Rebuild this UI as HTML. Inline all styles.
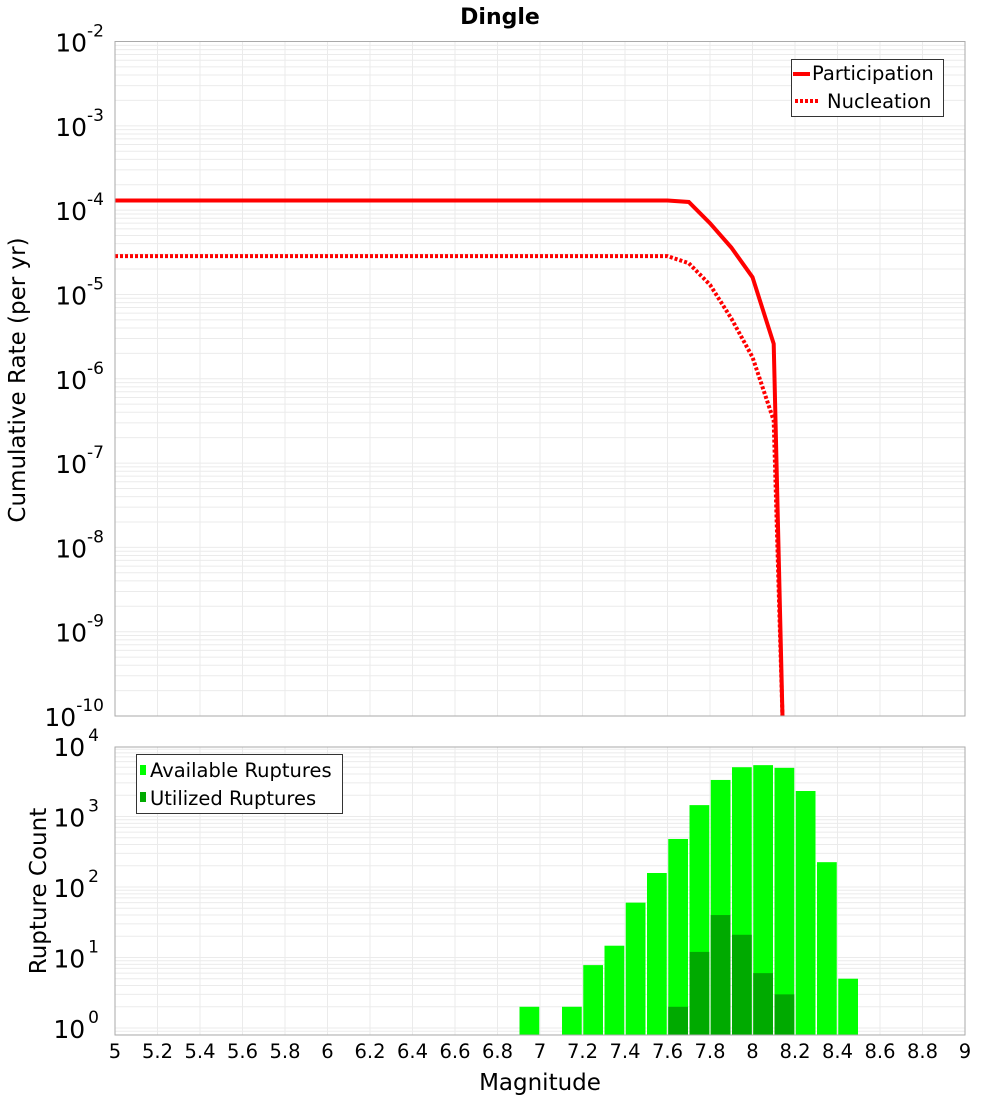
<!DOCTYPE html>
<html><head><meta charset="utf-8"><style>
html,body{margin:0;background:#fff;width:1000px;height:1100px;overflow:hidden;font-family:"DejaVu Sans","Liberation Sans",sans-serif;}
svg{display:block;}
svg text{font-family:"DejaVu Sans","Liberation Sans",sans-serif;}
</style></head><body>
<svg id="c" width="1000" height="1100" xmlns="http://www.w3.org/2000/svg">
<rect width="1000" height="1100" fill="#fff"/>
<text x="500" y="24" text-anchor="middle" font-size="22" font-weight="bold">Dingle</text>
<g id="topPanel"></g><g id="botPanel"></g>
</svg>
<script>
const mags=[5,5.1,5.2,5.3,5.4,5.5,5.6,5.7,5.8,5.9,6,6.1,6.2,6.3,6.4,6.5,6.6,6.7,6.8,6.9,7,7.1,7.2,7.3,7.4,7.5,7.6,7.7,7.8,7.9,8.0,8.1,8.2];
const participation=[1.3e-4,1.3e-4,1.3e-4,1.3e-4,1.3e-4,1.3e-4,1.3e-4,1.3e-4,1.3e-4,1.3e-4,1.3e-4,1.3e-4,1.3e-4,1.3e-4,1.3e-4,1.3e-4,1.3e-4,1.3e-4,1.3e-4,1.3e-4,1.3e-4,1.3e-4,1.3e-4,1.3e-4,1.3e-4,1.3e-4,1.3e-4,1.25e-4,7e-5,3.6e-5,1.6e-5,2.6e-6,5e-17];
const nucleation=[2.85e-5,2.85e-5,2.85e-5,2.85e-5,2.85e-5,2.85e-5,2.85e-5,2.85e-5,2.85e-5,2.85e-5,2.85e-5,2.85e-5,2.85e-5,2.85e-5,2.85e-5,2.85e-5,2.85e-5,2.85e-5,2.85e-5,2.85e-5,2.85e-5,2.85e-5,2.85e-5,2.85e-5,2.85e-5,2.85e-5,2.85e-5,2.35e-5,1.3e-5,5.2e-6,1.8e-6,3.2e-7,9e-16];
const binCenters=[6.95,7.15,7.25,7.35,7.45,7.55,7.65,7.75,7.85,7.95,8.05,8.15,8.25,8.35,8.45];
const available=[2,2,7.8,14.7,60,158,480,1450,3300,5000,5350,4900,2300,225,5];
const utilizedCenters=[7.65,7.75,7.85,7.95,8.05,8.15];
const utilized=[2,12,40,21,6,3];
const xTicks=[5,5.2,5.4,5.6,5.8,6,6.2,6.4,6.6,6.8,7,7.2,7.4,7.6,7.8,8,8.2,8.4,8.6,8.8,9];
const xTickLabels=["5","5.2","5.4","5.6","5.8","6","6.2","6.4","6.6","6.8","7","7.2","7.4","7.6","7.8","8","8.2","8.4","8.6","8.8","9"];
const topExps=[-2,-3,-4,-5,-6,-7,-8,-9,-10];
const botExps=[0,1,2,3,4];

const NS="http://www.w3.org/2000/svg";
const L=115,R=965;
const X=m=>L+(m-5)/4*(R-L);
const T0=41.5,T1=716;
const YT=v=>T0+(-2-Math.log10(v))*(T1-T0)/8;
const B0=747,B1=1035,BD=70.5,BZ=1028;
const YB=v=>BZ-Math.log10(v)*BD;
function el(p,tag,a,txt){const e=document.createElementNS(NS,tag);for(const k in a)e.setAttribute(k,a[k]);if(txt!==undefined)e.textContent=txt;p.appendChild(e);return e;}
const topG=document.getElementById('topPanel'),botG=document.getElementById('botPanel');

function grid(g,y0,y1,yf,lo,hi){
  for(let d=lo;d<hi;d++)for(let k=1;k<10;k++){const y=yf(k*Math.pow(10,d));if(y<y0-0.5||y>y1+0.5)continue;
    el(g,'line',{x1:L,x2:R,y1:y,y2:y,stroke:'#ebebeb','stroke-width':1});}
  xTicks.forEach(t=>{el(g,'line',{x1:X(t),x2:X(t),y1:y0,y2:y1,stroke:'#ebebeb','stroke-width':1});});
}
const tg=el(topG,'g',{});


grid(tg,T0,T1,YT,-11,-1);
const clip=el(tg,'clipPath',{id:'ct'});el(clip,'rect',{x:L,y:T0,width:R-L,height:T1-T0});
function line(arr,dash,name){
  const d=mags.map((m,i)=>(i?'L':'M')+X(m).toFixed(1)+','+YT(arr[i]).toFixed(1)).join('');
  const p=el(tg,'path',{d:d,fill:'none',stroke:'#ff0000','stroke-width':4,'clip-path':'url(#ct)','stroke-dasharray':dash||'none'});
  
  
}
line(participation,null,'participation-line');
line(nucleation,'3,2','nucleation-line');
el(tg,'rect',{x:L,y:T0,width:R-L,height:T1-T0,fill:'none',stroke:'#aaa','stroke-width':1});
topExps.forEach(e=>{const y=YT(Math.pow(10,e));
  const t=el(tg,'text',{x:104,y:y+10,'text-anchor':'end','font-size':25});
  
  
  el(t,'tspan',{},'10');el(t,'tspan',{dy:-15,'font-size':17},String(e));});
const yt=el(tg,'text',{transform:'translate(25,380) rotate(-90)','text-anchor':'middle','font-size':23},'Cumulative Rate (per yr)');


const lg=el(tg,'g',{});


el(lg,'rect',{x:791.5,y:59.5,width:152,height:57,fill:'#fff',stroke:'#333','stroke-width':1});
el(lg,'line',{x1:793,x2:810,y1:74,y2:74,stroke:'#f00','stroke-width':4});
el(lg,'text',{x:812,y:80,'font-size':19.5},'Participation');
el(lg,'line',{x1:795,x2:818,y1:101,y2:101,stroke:'#f00','stroke-width':4,'stroke-dasharray':'3,2'});
el(lg,'text',{x:827,y:108,'font-size':19.5},'Nucleation');

const bg=el(botG,'g',{});


grid(bg,B0,B1,YB,-1,4);
const bw=X(5.1)-X(5)-1.5;
binCenters.forEach((c,i)=>{const y=YB(available[i]);
  const r=el(bg,'rect',{x:X(c)-bw/2,y:y,width:bw,height:B1-y,fill:'#00ff00'});
  
  });
utilizedCenters.forEach((c,i)=>{const y=YB(utilized[i]);
  const r=el(bg,'rect',{x:X(c)-bw/2,y:y,width:bw,height:B1-y,fill:'#00aa00'});
  
  });
el(bg,'rect',{x:L,y:B0,width:R-L,height:B1-B0,fill:'none',stroke:'#aaa','stroke-width':1});
botExps.forEach(e=>{const y=YB(Math.pow(10,e));
  const t=el(bg,'text',{x:99,y:y+10,'text-anchor':'end','font-size':25});
  
  
  el(t,'tspan',{},'10');el(t,'tspan',{dx:3,dy:-15,'font-size':17},String(e));});
xTicks.forEach((t,i)=>{const tx=el(bg,'text',{x:X(t),y:1058,'text-anchor':'middle','font-size':19.5},xTickLabels[i]);
  
  });
const xt=el(bg,'text',{x:540,y:1090,'text-anchor':'middle','font-size':23},'Magnitude');


const yb=el(bg,'text',{transform:'translate(46,891) rotate(-90)','text-anchor':'middle','font-size':23},'Rupture Count');


const lg2=el(bg,'g',{});


el(lg2,'rect',{x:136.5,y:754.5,width:206,height:59,fill:'#fff',stroke:'#333','stroke-width':1});
el(lg2,'rect',{x:140,y:765,width:6,height:10,fill:'#00ff00'});
el(lg2,'text',{x:150,y:777,'font-size':19.5},'Available Ruptures');
el(lg2,'rect',{x:140,y:792,width:6,height:10,fill:'#00aa00'});
el(lg2,'text',{x:150,y:805,'font-size':19.5},'Utilized Ruptures');
</script>
</body></html>
